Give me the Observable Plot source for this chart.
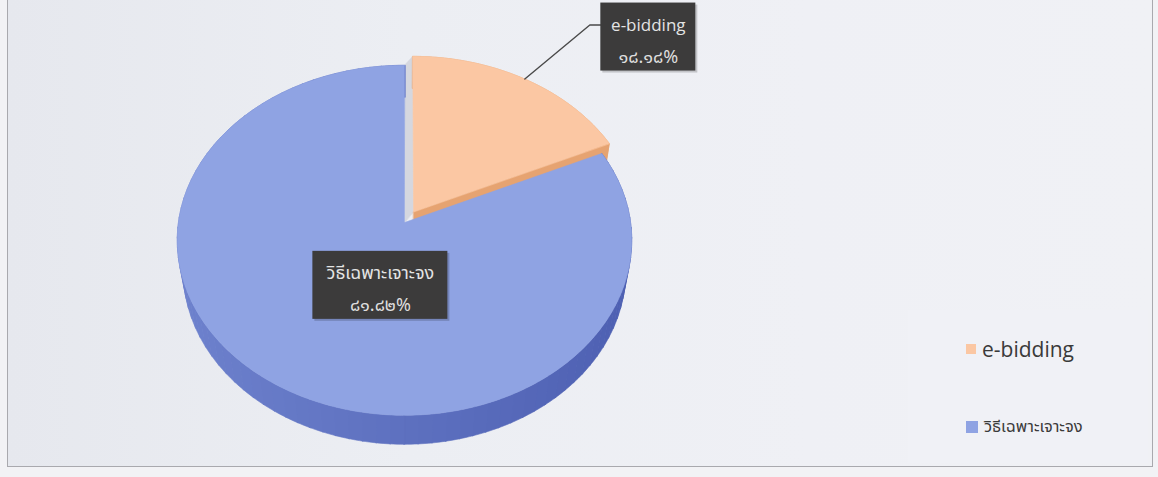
<!DOCTYPE html>
<html><head><meta charset="utf-8">
<script src="https://cdn.jsdelivr.net/npm/d3@7"></script>
<script src="https://cdn.jsdelivr.net/npm/@observablehq/plot@0.6"></script>
<style>
html,body{margin:0;padding:0;background:#f2f2f5;}
#wrap{position:relative;width:1158px;height:477px;overflow:hidden;background:#f2f2f5;}
#frame{position:absolute;left:7px;top:-2px;width:1144px;height:467px;border:1px solid #a9a9ae;
  background:linear-gradient(90deg,#e6e8ee 0%,#eceef3 35%,#eff0f5 70%,#f0f1f5 100%);}
#chart{position:absolute;left:0;top:0;}
#legend{position:absolute;left:908px;top:310px;width:240px;height:153px;background:#f0f1f6;}
.item{position:absolute;left:58px;display:flex;align-items:center;color:#3a3a3a;}
.sw{display:inline-block;margin-right:6px;}
</style></head><body>
<div id="wrap"><div id="frame"></div><div id="chart"></div><div id="legend"></div></div>
<script>
// ---- data ----
const categories = ["e-bidding", "วิธีเฉพาะเจาะจง"];
const values = [18.18, 81.82];
const topColors = ["#fbc7a3", "#8fa3e3"];
const sideColors = ["#e6a371", "#5a6dbf"];
const explodeBy = [0.075, 0];

const thaiDigits = "๐๑๒๓๔๕๖๗๘๙";
const fmtThai = v => v.toFixed(2).replace(/\d/g, d => thaiDigits[+d]) + "%";

// ---- 3D perspective geometry ----
const W = 1158, H = 477;
const cam = {cx: 404, cy: 222, F: 1431, D: 6.33, th: 50 * Math.PI / 180, t: 0.22};
const S = Math.sin(cam.th), C = Math.cos(cam.th);
function proj(u, v, h) {
  const Y = v * S - h * C;
  const Z = cam.D - v * C - h * S;
  return [cam.cx + cam.F * u / Z, cam.cy + cam.F * Y / Z];
}
const arcs = d3.pie().sort(null).value(d => d)(values);
const slices = arcs.map((a, i) => {
  const mid = (a.startAngle + a.endAngle) / 2;
  return {i, a0: a.startAngle, a1: a.endAngle, mid,
    ou: explodeBy[i] * Math.sin(mid), ov: -explodeBy[i] * Math.cos(mid)};
});
const rim = (s, a, h) => proj(s.ou + Math.sin(a), s.ov - Math.cos(a), h);
const ctr = (s, h) => proj(s.ou, s.ov, h);
function arcPts(s, h, a0, a1, rev) {
  const n = Math.max(4, Math.ceil((a1 - a0) / 0.02));
  const pts = d3.range(n + 1).map(k => rim(s, a0 + (a1 - a0) * k / n, h));
  return rev ? pts.reverse() : pts;
}
const polys = [];
let pid = 0;
function addPoly(pts, fill) { const id = pid++; pts.forEach(([x, y]) => polys.push({id, x, y, fill})); }

const [so, sb] = slices; // orange (exploded, farther back), blue
// gap seen between the exploded slice and the rest
addPoly([ctr(sb, 0), rim(sb, so.a0, 0), rim(so, so.a0, 0), ctr(so, 0)], "#d5d7df");
// orange slice first (it sits behind the blue one)
addPoly([...arcPts(so, 0, so.a0, so.a1), ...arcPts(so, -cam.t, so.a0, so.a1, true)], sideColors[0]);
addPoly([ctr(so, 0), rim(so, so.a1, 0), rim(so, so.a1, -cam.t), ctr(so, -cam.t)], sideColors[0]);
addPoly([ctr(so, 0), ...arcPts(so, 0, so.a0, so.a1)], topColors[0]);
// blue outer wall, shaded by angle
{
  const n = 90, t = cam.t;
  const shade = d3.interpolateRgb("#4b5db0", "#7084cf");
  for (let k = 0; k < n; k++) {
    const a0 = sb.a0 + (sb.a1 - sb.a0) * k / n, a1 = sb.a0 + (sb.a1 - sb.a0) * (k + 1) / n;
    const am = (a0 + a1) / 2;
    const f = shade(Math.max(0, Math.min(1, (1 - Math.sin(am)) / 2 * 0.9 + 0.05)));
    addPoly([...arcPts(sb, 0, a0, a1 + 0.004), ...arcPts(sb, -t, a0, a1 + 0.004, true)], f);
  }
}
// blue top face
addPoly([ctr(sb, 0), ...arcPts(sb, 0, sb.a0, sb.a1)], topColors[1]);

// ---- labels ----
const fontLatin = "'Open Sans', 'Noto Sans', sans-serif";
const fontThai = "'Noto Sans Thai', 'Noto Sans', 'DejaVu Sans', sans-serif";
const BOX_H = 68;
// orange: callout from rim at mid-angle
const oa = rim(so, so.mid, 0);
const oBox = {x1: oa[0] + 76, x2: oa[0] + 171, y1: oa[1] - 76};
const leader = [
  {x: oa[0], y: oa[1]},
  {x: oa[0] + 65, y: oBox.y1 + 22},
  {x: oBox.x1, y: oBox.y1 + 22}
];
// blue: inside the slice
const ba = proj(sb.ou + 0.3 * Math.sin(sb.mid), sb.ov - 0.3 * Math.cos(sb.mid), 0);
const bcx = ba[0] + 13, bTop = ba[1] - 16;
const bBox = {x1: bcx - 67, x2: bcx + 68, y1: bTop};
const boxes = [
  {x1: oBox.x1, x2: oBox.x2, y1: oBox.y1, y2: oBox.y1 + BOX_H, cx: (oBox.x1 + oBox.x2) / 2, name: categories[0], val: fmtThai(values[0]), thai: false},
  {x1: bBox.x1, x2: bBox.x2, y1: bBox.y1, y2: bBox.y1 + BOX_H, cx: (bBox.x1 + bBox.x2) / 2, name: categories[1], val: fmtThai(values[1]), thai: true}
];

const plot = Plot.plot({
  width: W, height: H, margin: 0,
  x: {domain: [0, W], range: [0, W], axis: null},
  y: {domain: [0, H], range: [0, H], axis: null},
  color: {type: "identity"},
  style: {background: "transparent", overflow: "visible"},
  marks: [
    Plot.line(polys, {x: "x", y: "y", z: "id", fill: "fill", stroke: "fill", strokeWidth: 0.6, curve: "linear-closed"}),
    Plot.line(leader, {x: "x", y: "y", stroke: "#4a4a4a", strokeWidth: 1.4}),
    Plot.rect(boxes, {x1: "x1", x2: "x2", y1: "y1", y2: "y2", fill: "#000", fillOpacity: 0.18, dx: 2, dy: 2}),
    Plot.rect(boxes, {x1: "x1", x2: "x2", y1: "y1", y2: "y2", fill: "#3c3b3b"}),
    Plot.text(boxes.filter(d => !d.thai), {x: "cx", y: d => d.y1 + 22, text: "name", fill: "#e4e4e4", fontSize: 17, fontFamily: fontLatin}),
    Plot.text(boxes.filter(d => d.thai), {x: "cx", y: d => d.y1 + 22, text: "name", fill: "#e4e4e4", fontSize: 18, fontFamily: fontThai}),
    Plot.text(boxes, {x: "cx", y: d => d.y1 + 54, text: "val", fill: "#dedede", fontSize: 18, fontFamily: fontThai})
  ]
});
document.getElementById("chart").appendChild(plot);

// ---- legend ----
const lg = document.getElementById("legend");
categories.forEach((c, i) => {
  const it = document.createElement("div");
  it.className = "item";
  it.style.top = (i === 0 ? 25 : 104) + "px";
  const sw = document.createElement("span");
  sw.className = "sw";
  const sz = i === 0 ? 10 : 12;
  sw.style.cssText = `width:${sz}px;height:${sz}px;background:${topColors[i]};` + (i === 0 ? "filter:blur(0.6px);" : "");
  const tx = document.createElement("span");
  tx.textContent = c;
  tx.style.fontFamily = i === 0 ? fontLatin : fontThai;
  tx.style.fontSize = (i === 0 ? 21 : 16.5) + "px";
  it.appendChild(sw); it.appendChild(tx);
  lg.appendChild(it);
});
</script></body></html>
